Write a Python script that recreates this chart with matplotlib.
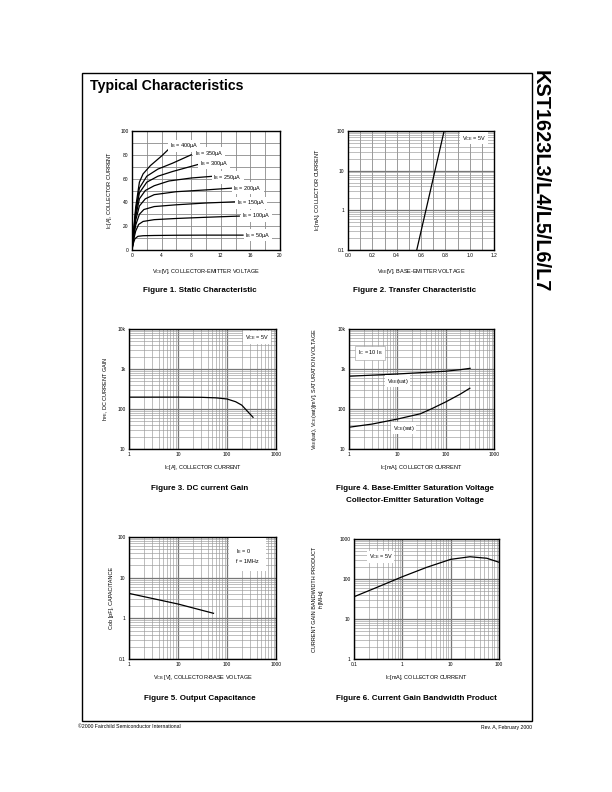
import numpy as np
import matplotlib.pyplot as plt
from matplotlib.patches import Rectangle
from matplotlib.ticker import FixedLocator, LogLocator, NullFormatter

plt.rcParams['font.family'] = ['Liberation Sans', 'DejaVu Sans']
plt.rcParams['mathtext.fontset'] = 'custom'
plt.rcParams['mathtext.rm'] = 'Liberation Sans'
plt.rcParams['mathtext.default'] = 'regular'

# Figure 1: static characteristic, V_CE [V] vs I_C
ib_labels = ['400', '350', '300', '250', '200', '150', '100', '50']
vce_curves = [
    [0, 0.2, 0.5, 1, 1.5, 2.5, 4, 5],
    [0, 0.2, 0.5, 1, 2, 3.5, 5.5, 8],
    [0, 0.2, 0.5, 1, 2, 3.5, 5.5, 9],
    [0, 0.2, 0.5, 1, 1.8, 3, 5, 8, 11],
    [0, 0.2, 0.5, 1, 1.8, 3, 6, 10, 13.5],
    [0, 0.2, 0.5, 1, 1.6, 3, 6, 10, 14],
    [0, 0.2, 0.5, 0.9, 1.5, 3, 6, 10, 14.5],
    [0, 0.15, 0.4, 0.8, 1.5, 3, 6, 10, 15],
]
ic_curves = [
    [0, 15, 36, 57, 64, 71, 79, 85],
    [0, 14, 33, 52, 62, 68, 73, 80],
    [0, 13, 31, 48, 57, 62, 66, 72],
    [0, 12, 28, 43, 50, 54, 58, 60.5, 62],
    [0, 11, 25, 37, 43, 46.5, 49, 50.5, 52],
    [0, 10, 21, 30, 34, 36.5, 38, 39.5, 40.5],
    [0, 8, 16, 21.5, 24, 25.5, 26.5, 27.5, 28.5],
    [0, 5, 9.5, 11.5, 12, 12.2, 12.4, 12.5, 12.5],
]
ib_label_x = [5.1, 8.5, 9.2, 11.0, 13.7, 14.2, 14.9, 15.3]
ib_label_y = [87.5, 81.5, 73, 61, 52, 39.5, 28.6, 12.6]

# Figure 2: transfer characteristic
vbe = [0.565, 0.79]
ic_transfer = [0.1, 100]

# Figure 3: DC current gain
ic_hfe = [1, 10, 30, 60, 100, 150, 200, 250, 340]
hfe = [198, 198, 196, 190, 178, 152, 125, 93, 62]

# Figure 4: saturation voltages
ic_vbe = [1, 10, 100, 200, 320]
vbe_sat = [660, 750, 880, 960, 1040]
ic_vce = [1, 3, 10, 30, 50, 100, 200, 316]
vce_sat = [35, 42, 56, 76, 100, 150, 235, 330]

# Figure 5: output capacitance
vcb = [1, 10, 53]
cob = [4.1, 2.25, 1.33]

# Figure 6: gain bandwidth product
ic_ft = [0.1, 0.3, 1, 3.2, 10, 25, 56, 100]
ft = [36, 62, 114, 196, 310, 360, 330, 262]

W, H = 612, 792
fig = plt.figure(figsize=(6.12, 7.92), dpi=100)


def px_axes(x0, y0, x1, y1):
    return fig.add_axes([x0 / W, 1 - y1 / H, (x1 - x0) / W, (y1 - y0) / H])


def px_text(x, y, s, **kw):
    fig.text(x / W, 1 - y / H, s, **kw)


def style(ax):
    for sp in ax.spines.values():
        sp.set_linewidth(1.0)
        sp.set_color('black')
    ax.tick_params(which='both', length=0, labelsize=3.5, pad=2.5)
    ax.set_axisbelow(True)


def log_axis(axis, lo, hi, labels):
    axis.set_major_locator(FixedLocator(np.logspace(np.log10(lo), np.log10(hi), len(labels))))
    axis.set_minor_locator(LogLocator(base=10, subs=np.arange(2, 10)))
    axis.set_minor_formatter(NullFormatter())


def log_grid(ax):
    ax.grid(which='major', color='#777777', lw=0.9)
    ax.grid(which='minor', color='#9a9a9a', lw=0.45)


box = dict(facecolor='white', edgecolor='none', pad=1.2)
small = 4

# ---- Figure 1
ax = px_axes(132, 131, 280, 250)
style(ax)
ax.set_xlim(0, 20)
ax.set_ylim(0, 100)
ax.xaxis.set_major_locator(FixedLocator([0, 4, 8, 12, 16, 20]))
ax.xaxis.set_minor_locator(FixedLocator(np.arange(2, 20, 4)))
ax.yaxis.set_major_locator(FixedLocator([0, 20, 40, 60, 80, 100]))
ax.yaxis.set_minor_locator(FixedLocator(np.arange(10, 100, 20)))
ax.grid(which='both', color='#8a8a8a', lw=0.6)
for v, i in zip(vce_curves, ic_curves):
    ax.plot(v, i, color='black', lw=0.9)
for lab, lx, ly in zip(ib_labels, ib_label_x, ib_label_y):
    ax.text(lx, ly, 'I$_B$ = ' + lab + 'µA', fontsize=small, va='center', bbox=box)

# ---- Figure 2
ax = px_axes(348, 131, 494, 250)
style(ax)
ax.set_yscale('log')
ax.set_xlim(0, 1.2)
ax.set_ylim(0.1, 100)
ax.xaxis.set_major_locator(FixedLocator(np.arange(0, 1.21, 0.2)))
ax.xaxis.set_minor_locator(FixedLocator(np.arange(0.1, 1.2, 0.2)))
ax.set_xticklabels(['0.0', '0.2', '0.4', '0.6', '0.8', '1.0', '1.2'])
log_axis(ax.yaxis, 0.1, 100, ['0.1', '1', '10', '100'])
ax.set_yticklabels(['0.1', '1', '10', '100'])
ax.grid(which='major', axis='y', color='#777777', lw=0.9)
ax.grid(which='minor', axis='y', color='#9a9a9a', lw=0.45)
ax.grid(which='both', axis='x', color='#8a8a8a', lw=0.6)
ax.plot(vbe, ic_transfer, color='black', lw=0.9)
ax.text(0.78, 0.94, 'V$_{CE}$ = 5V', transform=ax.transAxes, fontsize=small, va='center', bbox=box)

# ---- Figure 3
ax = px_axes(129, 329, 276, 449)
style(ax)
ax.set_xscale('log')
ax.set_yscale('log')
ax.set_xlim(1, 1000)
ax.set_ylim(10, 10000)
log_axis(ax.xaxis, 1, 1000, ['1', '10', '100', '1000'])
ax.set_xticklabels(['1', '10', '100', '1000'])
log_axis(ax.yaxis, 10, 10000, ['10', '100', '1k', '10k'])
ax.set_yticklabels(['10', '100', '1k', '10k'])
log_grid(ax)
ax.plot(ic_hfe, hfe, color='black', lw=0.9)
ax.text(0.79, 0.93, 'V$_{CE}$ = 5V', transform=ax.transAxes, fontsize=small, va='center', bbox=box)

# ---- Figure 4
ax = px_axes(349, 329, 494, 449)
style(ax)
ax.set_xscale('log')
ax.set_yscale('log')
ax.set_xlim(1, 1000)
ax.set_ylim(10, 10000)
log_axis(ax.xaxis, 1, 1000, ['1', '10', '100', '1000'])
ax.set_xticklabels(['1', '10', '100', '1000'])
log_axis(ax.yaxis, 10, 10000, ['10', '100', '1k', '10k'])
ax.set_yticklabels(['10', '100', '1k', '10k'])
log_grid(ax)
ax.plot(ic_vbe, vbe_sat, color='black', lw=0.9)
ax.plot(ic_vce, vce_sat, color='black', lw=0.9)
ax.text(6.0, 500, 'V$_{BE}$(sat)', fontsize=small, va='center', bbox=box)
ax.text(8.0, 33, 'V$_{CE}$(sat)', fontsize=small, va='center', bbox=box)
ax.text(0.06, 0.8, 'I$_C$ = 10 I$_B$', transform=ax.transAxes, fontsize=small, va='center',
        bbox=dict(facecolor='white', edgecolor='#999999', lw=0.4, pad=2))

# ---- Figure 5
ax = px_axes(129, 537, 276, 659)
style(ax)
ax.set_xscale('log')
ax.set_yscale('log')
ax.set_xlim(1, 1000)
ax.set_ylim(0.1, 100)
log_axis(ax.xaxis, 1, 1000, ['1', '10', '100', '1000'])
ax.set_xticklabels(['1', '10', '100', '1000'])
log_axis(ax.yaxis, 0.1, 100, ['0.1', '1', '10', '100'])
ax.set_yticklabels(['0.1', '1', '10', '100'])
log_grid(ax)
ax.plot(vcb, cob, color='black', lw=0.9)
ax.text(0.73, 0.85, 'I$_E$ = 0\nf = 1MHz', transform=ax.transAxes, fontsize=small, va='center',
        linespacing=1.8, bbox=dict(facecolor='white', edgecolor='none', pad=5))

# ---- Figure 6
ax = px_axes(354, 539, 499, 659)
style(ax)
ax.set_xscale('log')
ax.set_yscale('log')
ax.set_xlim(0.1, 100)
ax.set_ylim(1, 1000)
log_axis(ax.xaxis, 0.1, 100, ['0.1', '1', '10', '100'])
ax.set_xticklabels(['0.1', '1', '10', '100'])
log_axis(ax.yaxis, 1, 1000, ['1', '10', '100', '1000'])
ax.set_yticklabels(['1', '10', '100', '1000'])
log_grid(ax)
ax.plot(ic_ft, ft, color='black', lw=0.9)
ax.text(0.1, 0.85, 'V$_{CE}$ = 5V', transform=ax.transAxes, fontsize=small, va='center', bbox=box)

# axis labels
lab = dict(fontsize=small, ha='center', va='center')
px_text(206, 271, 'V$_{CE}$[V], COLLECTOR-EMITTER VOLTAGE', **lab)
px_text(109, 190, 'I$_C$[A], COLLECTOR CURRENT', rotation=90, **lab)
px_text(421, 271, 'V$_{BE}$[V], BASE-EMITTER VOLTAGE', **lab)
px_text(317, 190, 'I$_C$[mA], COLLECTOR CURRENT', rotation=90, **lab)
px_text(203, 468, 'I$_C$[A], COLLECTOR CURRENT', **lab)
px_text(106, 389, 'h$_{FE}$, DC CURRENT GAIN', rotation=90, **lab)
px_text(421, 468, 'I$_C$[mA], COLLECTOR CURRENT', **lab)
px_text(315, 389, 'V$_{BE}$(sat), V$_{CE}$(sat)[mV], SATURATION VOLTAGE', rotation=90, **lab)
px_text(203, 677, 'V$_{CB}$ [V], COLLECTOR-BASE VOLTAGE', **lab)
px_text(112, 598, 'Cob [pF], CAPACITANCE', rotation=90, **lab)
px_text(426, 677, 'I$_C$[mA], COLLECTOR CURRENT', **lab)
px_text(315, 599, 'CURRENT GAIN BANDWIDTH PRODUCT', rotation=90, **lab)
px_text(322, 599, 'f$_T$[MHz]', rotation=90, **lab)

# captions
cap = dict(fontsize=5.8, fontweight='bold', ha='center', va='center')
px_text(200, 291, 'Figure 1. Static Characteristic', **cap)
px_text(415, 291, 'Figure 2. Transfer Characteristic', **cap)
px_text(200, 489, 'Figure 3. DC current Gain', **cap)
px_text(415, 489, 'Figure 4. Base-Emitter Saturation Voltage', **cap)
px_text(415, 501, 'Collector-Emitter Saturation Voltage', **cap)
px_text(200, 699, 'Figure 5. Output Capacitance', **cap)
px_text(416, 699, 'Figure 6. Current Gain Bandwidth Product', **cap)

# page frame, title, side text, footer
fig.patches.append(Rectangle((82 / W, 1 - 721 / H), 450 / W, 648 / H, transform=fig.transFigure,
                             fill=False, edgecolor='black', lw=1.0))
px_text(90, 86, 'Typical Characteristics', fontsize=10.2, fontweight='bold', va='center')
px_text(540, 70, 'KST1623L3/L4/L5/L6/L7', fontsize=14.3, fontweight='bold', rotation=-90,
        ha='center', va='top')
px_text(78, 727, '©2000 Fairchild Semiconductor International', fontsize=3.7, va='center')
px_text(532, 727, 'Rev. A, February 2000', fontsize=3.7, va='center', ha='right')

fig.savefig('out.png', dpi=100)
